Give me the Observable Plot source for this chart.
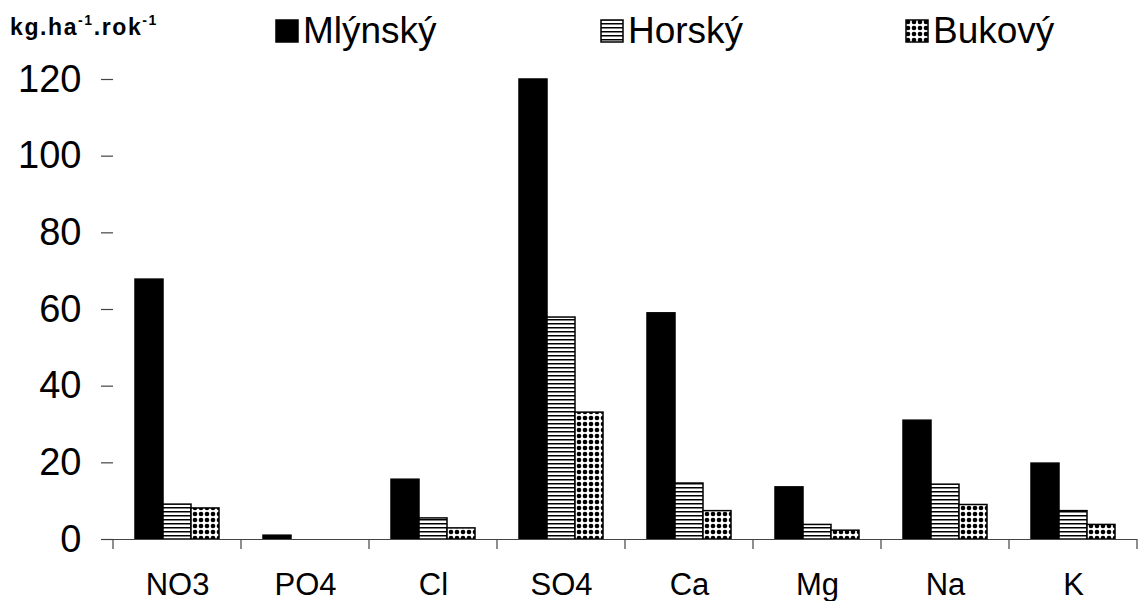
<!DOCTYPE html>
<html>
<head>
<meta charset="utf-8">
<script src="https://cdn.jsdelivr.net/npm/d3@7"></script>
<script src="https://cdn.jsdelivr.net/npm/@observablehq/plot@0.6"></script>
<style>
  html, body { margin: 0; padding: 0; background: white; }
  body { width: 1139px; height: 601px; overflow: hidden; font-family: "Liberation Sans", Arial, sans-serif; }
  #legend { position: relative; height: 55px; width: 1139px; }
  #legend .ylab { position: absolute; left: 10px; top: 14px; font-weight: bold; font-size: 23px; letter-spacing: 1.6px; }
  #legend .ylab sup { font-size: 14px; vertical-align: 10px; line-height: 0; }
  #legend .item { position: absolute; top: 10px; display: flex; align-items: center; font-size: 37px; line-height: 42px; }
  #legend .item svg { margin-right: 4px; }
</style>
</head>
<body>
<svg width="0" height="0" style="position:absolute">
  <defs>
    <pattern id="pat-h" patternUnits="userSpaceOnUse" width="4" height="4">
      <rect width="4" height="4" fill="white"></rect>
      <rect y="0" width="4" height="1.5" fill="black"></rect>
    </pattern>
    <pattern id="pat-b" patternUnits="userSpaceOnUse" width="6" height="6">
      <rect width="6" height="6" fill="white"></rect>
      <circle cx="3" cy="3" r="2.3" fill="black"></circle>
    </pattern>
  </defs>
</svg>
<div id="legend"></div>
<div id="chart"></div>
<script>
const categories = ["NO3", "PO4", "Cl", "SO4", "Ca", "Mg", "Na", "K"];
const series = ["Mlýnský", "Horský", "Bukový"];
const mlynsky = [67.8, 1.0, 15.6, 120, 59.0, 13.6, 31.0, 19.8];
const horsky  = [9.1, 0, 5.5, 57.9, 14.6, 3.8, 14.3, 7.4];
const bukovy  = [8.1, 0, 2.9, 33.1, 7.4, 2.3, 9.0, 3.8];
const yTicks = [0, 20, 40, 60, 80, 100, 120];
const fills = ["black", "url(#pat-h)", "url(#pat-b)"];
const legendX = [275, 600, 905];

const valuesBySeries = [mlynsky, horsky, bukovy];
const data = categories.flatMap((c, i) =>
  series.map((s, j) => ({category: c, series: s, value: valuesBySeries[j][i]}))
);

// Legend (HTML)
const legend = d3.select("#legend");
legend.append("div").attr("class", "ylab")
  .html("kg.ha<sup>-1</sup>.rok<sup>-1</sup>");
series.forEach((s, j) => {
  const item = legend.append("div").attr("class", "item").style("left", legendX[j] + "px");
  const sw = item.append("svg").attr("width", 24).attr("height", 24);
  sw.append("rect").attr("x", 1).attr("y", 1).attr("width", 22).attr("height", 22)
    .attr("fill", fills[j]).attr("stroke", "black").attr("stroke-width", 1.5);
  item.append("span").text(s);
});

const chart = Plot.plot({
  width: 1139,
  height: 546,
  marginTop: 24,
  marginBottom: 62,
  marginLeft: 113,
  marginRight: 2,
  style: {fontFamily: "'Liberation Sans', Arial, sans-serif", background: "white", color: "black"},
  fx: {domain: categories, paddingInner: 0, paddingOuter: 0, label: null},
  x: {domain: series, paddingInner: 0, paddingOuter: 0.738, axis: null},
  y: {domain: [0, 120], label: null},
  color: {domain: series, range: fills},
  marks: [
    Plot.barY(data, {
      filter: d => d.value > 0,
      fx: "category", x: "series", y: "value",
      fill: "series", stroke: "black", strokeWidth: 1.5, inset: 0
    }),
    Plot.ruleY([0], {stroke: "#444", strokeWidth: 1.2}),
    Plot.axisY({ticks: yTicks, tickSize: 12, tickPadding: 20, fontSize: 38, label: null, line: true, stroke: "#444", strokeWidth: 1.2, color: "black"}),
    Plot.axisFx({anchor: "bottom", tickSize: 0, tickPadding: 33, fontSize: 31, label: null})
  ]
});
document.getElementById("chart").appendChild(chart);

// Category boundary tick marks below the baseline, from the fx scale
const fx = chart.scale("fx");
const yS = chart.scale("y");
const y0 = yS.apply(0);
const bounds = categories.map(c => fx.apply(c)).concat([fx.apply(categories[categories.length - 1]) + fx.bandwidth]);
d3.select(chart).append("g").attr("aria-label", "category boundaries")
  .selectAll("line").data(bounds).join("line")
  .attr("x1", d => d).attr("x2", d => d)
  .attr("y1", y0).attr("y2", y0 + 10)
  .attr("stroke", "#444").attr("stroke-width", 1.2);
</script>
</body>
</html>
